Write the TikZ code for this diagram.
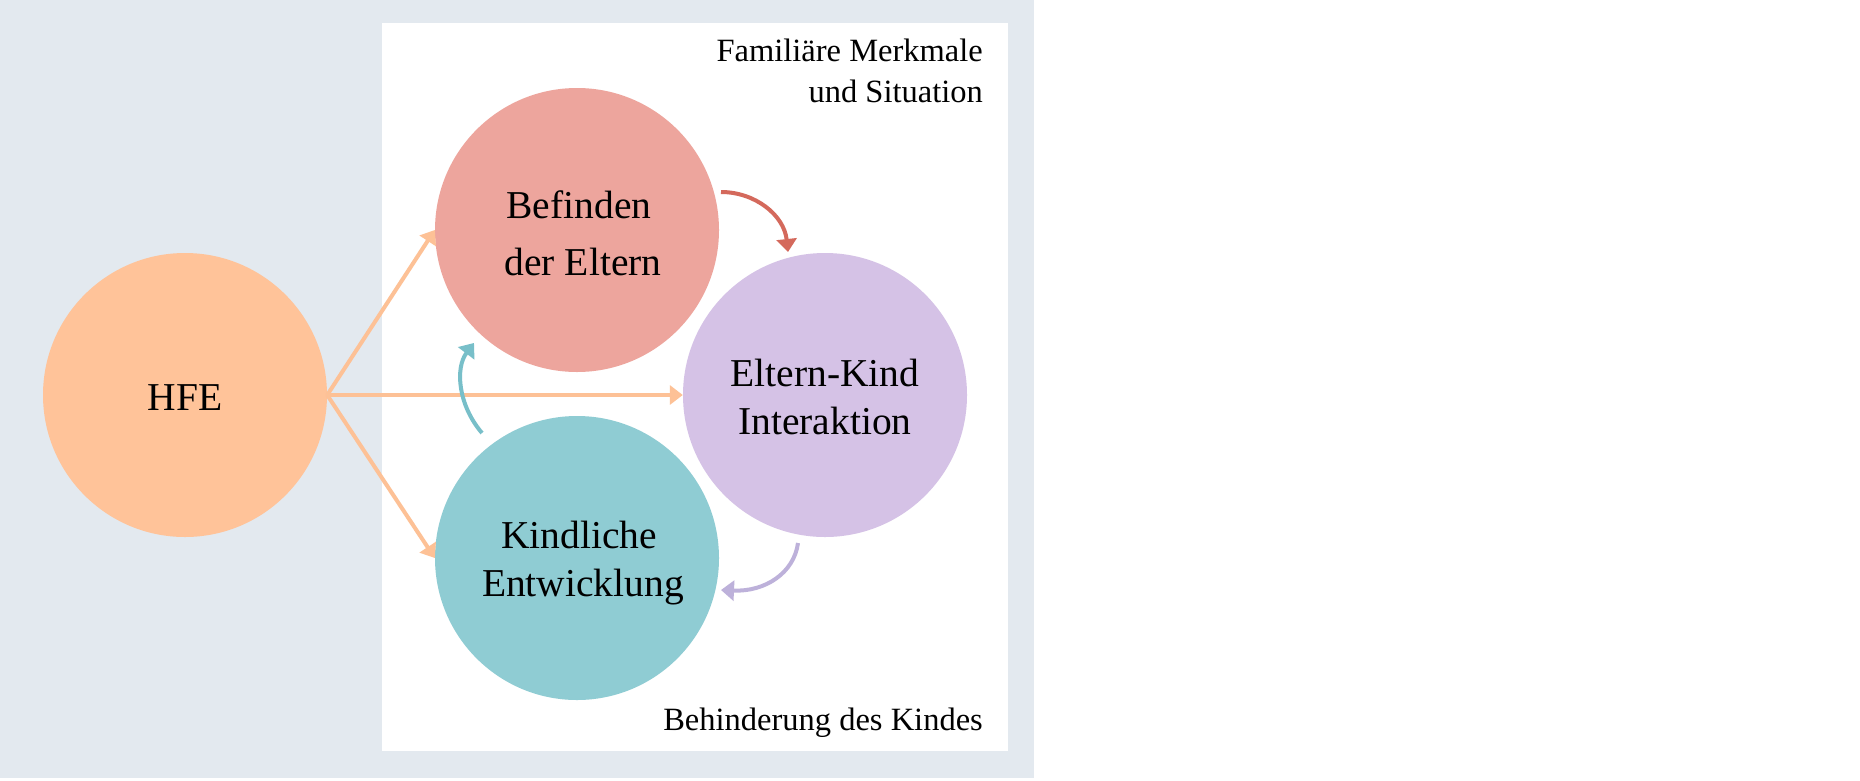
\documentclass[tikz,border=0pt]{standalone}
\usepackage{fontspec}
\setmainfont{Liberation Serif}
\usetikzlibrary{arrows.meta}
\definecolor{bgc}{HTML}{E3E9EF}
\definecolor{hfec}{HTML}{FFC399}
\definecolor{befc}{HTML}{EDA59D}
\definecolor{ekc}{HTML}{D5C2E6}
\definecolor{kindc}{HTML}{8FCCD3}
\definecolor{orarr}{HTML}{FDC196}
\definecolor{redarr}{HTML}{D4695C}
\definecolor{tealarr}{HTML}{78BFC9}
\definecolor{purarr}{HTML}{BDB1DA}
\tikzset{
  bubble/.style={circle, minimum size=284pt, inner sep=0pt, draw=none},
  bigtxt/.style={anchor=base, inner sep=0pt, font=\fontsize{39.5}{47}\selectfont},
  cornertxt/.style={anchor=base east, inner sep=0pt, font=\fontsize{32.5}{40}\selectfont},
  orconn/.style={draw=orarr, line width=4pt, -{Triangle[length=13pt,width=19pt]}},
  curvconn/.style={line width=4pt, -{Triangle[length=13pt,width=20pt]}}
}
\begin{document}
\begin{tikzpicture}[x=1pt,y=-1pt]
\useasboundingbox (0,0) rectangle (1860,780);
\fill[white] (0,0) rectangle (1860,780);
\fill[bgc] (0,0) rectangle (1034,778);
\fill[white] (382,23) rectangle (1008,751);
% circles
\node[bubble, fill=hfec] (hfe) at (185,395) {};
\node[bubble, fill=befc] (bef) at (577,230) {};
\node[bubble, fill=ekc] (ek) at (825,395) {};
\node[bubble, fill=kindc] (kind) at (577,558) {};
% texts
\node[bigtxt] (t-hfe) at (185,410) {HFE};
\node[bigtxt] (t-bef1) at (579,218) {Befinden};
\node[bigtxt] (t-bef2) at (583,275) {der Eltern};
\node[bigtxt] (t-ek1) at (825,386) {Eltern-Kind};
\node[bigtxt] (t-ek2) at (825,434) {Interaktion};
\node[bigtxt] (t-kind1) at (579,548) {Kindliche};
\node[bigtxt] (t-kind2) at (583,596) {Entwicklung};
\node[cornertxt] (t-fam1) at (983,61) {Familiäre Merkmale};
\node[cornertxt] (t-fam2) at (983,102) {und Situation};
\node[cornertxt] (t-beh) at (983,730) {Behinderung des Kindes};
% straight connectors
\draw[orconn] (hfe.east) -- (bef.west);
\draw[orconn] (hfe.east) -- (ek.west);
\draw[orconn] (hfe.east) -- (kind.west);
% curved connectors
\coordinate (r-s) at (721,192);
\coordinate (r-e) at (788,252);
\coordinate (t-s) at (482,433);
\coordinate (t-e) at (474,343);
\coordinate (p-s) at (798,543);
\coordinate (p-e) at (721,590);
\draw[curvconn, draw=redarr, fill=none] (r-s) .. controls (755,192) and (784,215) .. (r-e);
\draw[curvconn, draw=tealarr] (t-s) .. controls (458,405) and (455,368) .. (t-e);
\draw[curvconn, draw=purarr] (p-s) .. controls (794,573) and (765,592) .. (p-e);
\end{tikzpicture}
\end{document}
